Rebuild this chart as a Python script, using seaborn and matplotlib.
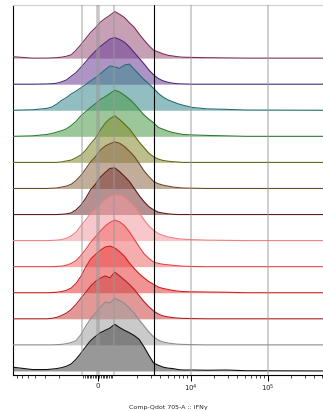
import numpy as np
import matplotlib
matplotlib.use("Agg")
import matplotlib.pyplot as plt
import seaborn as sns

# display channels (0-1023) of the biexponential IFNg axis
channels = [0, 64, 112, 128, 144, 160, 176, 192, 208, 224, 240, 256, 272, 288,
            304, 320, 336, 352, 368, 384, 400, 416, 432, 448, 464, 480, 496,
            512, 528, 544, 560, 592, 640, 704, 768, 1023]

# mode-normalised histograms, samples listed top to bottom
s01 = [0.03, 0.0, 0.0, 0.005, 0.01, 0.02, 0.04, 0.07, 0.17, 0.29, 0.42, 0.55, 0.65, 0.77, 0.85, 0.92, 1.0, 0.94,
       0.87, 0.76, 0.66, 0.52, 0.39, 0.27, 0.17, 0.13, 0.09, 0.06, 0.045, 0.03, 0.02, 0.015, 0.01, 0.005, 0.0, 0.0]
s02 = [0.0, 0.0, 0.005, 0.01, 0.02, 0.05, 0.09, 0.17, 0.25, 0.36, 0.48, 0.6, 0.71, 0.81, 0.89, 0.97, 1.0, 0.96,
       0.9, 0.8, 0.68, 0.56, 0.44, 0.31, 0.2, 0.12, 0.07, 0.04, 0.02, 0.01, 0.005, 0.0, 0.0, 0.0, 0.0, 0.0]
s03 = [0.0, 0.01, 0.04, 0.07, 0.13, 0.21, 0.27, 0.35, 0.41, 0.48, 0.55, 0.63, 0.7, 0.78, 0.87, 0.95, 0.93, 0.9,
       0.97, 0.99, 0.88, 0.77, 0.66, 0.57, 0.47, 0.36, 0.28, 0.22, 0.18, 0.14, 0.11, 0.06, 0.03, 0.02, 0.005, 0.0]
s04 = [0.0, 0.01, 0.04, 0.06, 0.09, 0.12, 0.16, 0.23, 0.32, 0.44, 0.53, 0.62, 0.7, 0.79, 0.85, 0.92, 0.99, 0.95,
       0.88, 0.8, 0.7, 0.58, 0.46, 0.37, 0.29, 0.19, 0.15, 0.11, 0.08, 0.06, 0.04, 0.03, 0.02, 0.01, 0.0, 0.0]
s05 = [0.0, 0.0, 0.0, 0.0, 0.0, 0.01, 0.03, 0.05, 0.1, 0.16, 0.26, 0.4, 0.52, 0.69, 0.84, 0.94, 1.0, 0.92,
       0.82, 0.72, 0.58, 0.44, 0.32, 0.2, 0.12, 0.07, 0.04, 0.025, 0.015, 0.008, 0.0, 0.0, 0.0, 0.0, 0.0, 0.0]
s06 = [0.0, 0.0, 0.0, 0.005, 0.01, 0.03, 0.05, 0.09, 0.17, 0.28, 0.42, 0.57, 0.68, 0.82, 0.91, 0.96, 1.0, 0.97,
       0.9, 0.8, 0.69, 0.54, 0.38, 0.26, 0.15, 0.1, 0.07, 0.05, 0.03, 0.02, 0.01, 0.005, 0.0, 0.0, 0.0, 0.0]
s07 = [0.0, 0.0, 0.0, 0.0, 0.0, 0.005, 0.015, 0.035, 0.1, 0.2, 0.35, 0.53, 0.65, 0.8, 0.9, 0.99, 1.0, 0.92,
       0.82, 0.71, 0.56, 0.41, 0.28, 0.17, 0.1, 0.05, 0.03, 0.015, 0.005, 0.0, 0.0, 0.0, 0.0, 0.0, 0.0, 0.0]
s08 = [0.0, 0.0, 0.0, 0.005, 0.01, 0.02, 0.05, 0.1, 0.18, 0.32, 0.44, 0.59, 0.68, 0.79, 0.88, 0.95, 0.99, 0.98,
       0.93, 0.84, 0.73, 0.6, 0.45, 0.32, 0.22, 0.15, 0.11, 0.08, 0.06, 0.04, 0.03, 0.02, 0.01, 0.005, 0.0, 0.0]
s09 = [0.0, 0.0, 0.0, 0.0, 0.005, 0.01, 0.03, 0.07, 0.13, 0.24, 0.37, 0.52, 0.64, 0.76, 0.87, 0.95, 1.0, 0.96,
       0.88, 0.75, 0.59, 0.43, 0.28, 0.18, 0.1, 0.07, 0.05, 0.04, 0.03, 0.02, 0.01, 0.005, 0.0, 0.0, 0.0, 0.0]
s10 = [0.0, 0.0, 0.0, 0.005, 0.01, 0.025, 0.05, 0.1, 0.2, 0.35, 0.55, 0.72, 0.82, 0.91, 0.98, 1.0, 0.96, 0.88,
       0.78, 0.64, 0.52, 0.41, 0.32, 0.24, 0.18, 0.12, 0.09, 0.07, 0.05, 0.035, 0.025, 0.02, 0.015, 0.01, 0.0, 0.0]
s11 = [0.0, 0.0, 0.0, 0.01, 0.03, 0.07, 0.12, 0.2, 0.31, 0.44, 0.57, 0.7, 0.8, 0.87, 0.92, 0.88, 1.0, 0.92,
       0.83, 0.74, 0.63, 0.5, 0.37, 0.26, 0.17, 0.1, 0.06, 0.04, 0.025, 0.015, 0.01, 0.005, 0.0, 0.0, 0.0, 0.0]
s12 = [0.0, 0.0, 0.0, 0.0, 0.005, 0.01, 0.025, 0.05, 0.09, 0.22, 0.4, 0.56, 0.68, 0.8, 0.92, 0.9, 1.0, 0.95,
       0.89, 0.79, 0.68, 0.54, 0.41, 0.28, 0.17, 0.1, 0.06, 0.04, 0.025, 0.015, 0.01, 0.005, 0.0, 0.0, 0.0, 0.0]
s13 = [0.08, 0.03, 0.03, 0.04, 0.05, 0.07, 0.1, 0.15, 0.25, 0.38, 0.52, 0.65, 0.74, 0.82, 0.87, 0.92, 1.0, 0.93,
       0.87, 0.82, 0.76, 0.68, 0.52, 0.34, 0.17, 0.12, 0.08, 0.06, 0.05, 0.03, 0.02, 0.02, 0.015, 0.02, 0.005, 0.0]

samples = [s01, s02, s03, s04, s05, s06, s07, s08, s09, s10, s11, s12, s13]
line_colors = ["#7d2f5c", "#4e2a7a", "#226e72", "#2e7d32", "#626a17", "#6e4b28", "#5c1c1c",
               "#f08080", "#e64545", "#d41c1c", "#b31f1f", "#8c8c8c", "#111111"]
fill_colors = ["#9c5278", "#6a3d96", "#3a8a8e", "#4a9a4a", "#858c2c", "#8f6a48", "#7a3535",
               "#f49aa2", "#f06a6a", "#e83a3a", "#cc4444", "#a0a0a0", "#444444"]

# axis ticks (values) and gate line
major_ticks = [0, 1e4, 1e5]
major_labels = ["0", r"$10^4$", r"$10^5$"]
grid_values = [-1e3, 1e3, 1e4, 1e5]
gate_value = 3300

ZERO_CH = 280      # channel of value 0
LIN_CH = 53        # channels from 0 to 10^3 (linear part)
DECADE_CH = 254    # channels per decade above 10^3
SPACING = 26 / 46.5  # vertical offset between samples (in peak heights)


def to_channel(v):
    if abs(v) <= 1000:
        return ZERO_CH + LIN_CH * v / 1000
    return ZERO_CH + np.sign(v) * (LIN_CH + DECADE_CH * np.log10(abs(v) / 1000))


sns.set_style("white")
plt.rcParams["font.family"] = ["DejaVu Sans"]

fig = plt.figure(figsize=(3.23, 4.11), dpi=100)
ax = fig.add_axes([13 / 323, 1 - 375 / 411, 310 / 323, 370 / 411])

x = np.array(channels, dtype=float)
n = len(samples)
for i, (vals, lc, fc) in enumerate(zip(samples, line_colors, fill_colors)):
    base = (n - 1 - i) * SPACING
    y = base + np.array(vals)
    ax.fill_between(x, base, y, color=fc, alpha=0.55, lw=0, zorder=2 + 2 * i)
    sns.lineplot(x=x, y=y, color=lc, lw=0.8, ax=ax, estimator=None, sort=False,
                 zorder=3 + 2 * i)

# grid / gate lines
for v in grid_values:
    ax.axvline(to_channel(v), color="#999999", lw=1.2, alpha=0.55, zorder=40)
ax.axvline(to_channel(0), color="#999999", lw=2.6, alpha=0.55, zorder=40)
ax.axvline(to_channel(gate_value), color="black", lw=0.8, zorder=41)

ax.set_xlim(0, 1023)
ax.set_ylim(-0.087, (n - 1) * SPACING + 53 / 46.5)

# ticks
ax.set_xticks([to_channel(v) for v in major_ticks])
ax.set_xticklabels(major_labels, fontsize=5)
minor = [s * 100 for s in range(-9, 10) if s != 0]
minor += [-k * 1000 for k in range(2, 8)]
minor += [k * 10 ** d for d in (3, 4, 5) for k in range(2, 10)]
minor = [to_channel(v) for v in minor if -1023 < to_channel(v) < 1023 and to_channel(v) > 0]
ax.set_xticks(minor, minor=True)
ax.tick_params(axis="x", which="major", length=4, width=0.7, pad=1.5, color="black", bottom=True)
ax.tick_params(axis="x", which="minor", length=2, width=0.5, color="black", bottom=True)
ax.set_yticks([])
ax.set_ylabel("")
ax.set_xlabel("Comp-Qdot 705-A :: IFNγ", fontsize=4.5, labelpad=8)

for side in ("left", "bottom"):
    ax.spines[side].set_color("black")
    ax.spines[side].set_linewidth(0.8)
ax.spines["top"].set_color("#d0d0d0")
ax.spines["top"].set_linewidth(0.8)
ax.spines["right"].set_visible(False)

fig.savefig("out.png", dpi=100)
